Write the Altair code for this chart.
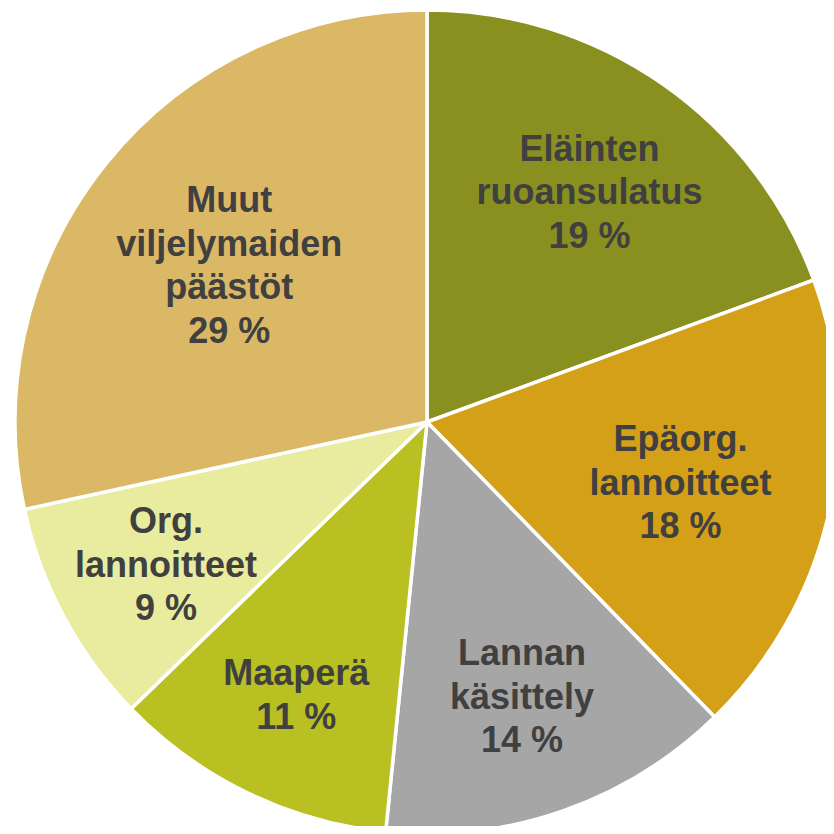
import altair as alt
import pandas as pd

categories = ["Eläinten ruoansulatus", "Epäorg. lannoitteet", "Lannan käsittely",
              "Maaperä", "Org. lannoitteet", "Muut viljelymaiden päästöt"]
shares = [19.4, 18.3, 13.9, 11.15, 8.85, 28.4]
label_lines = [
    ["Eläinten", "ruoansulatus", "19 %"],
    ["Epäorg.", "lannoitteet", "18 %"],
    ["Lannan", "käsittely", "14 %"],
    ["Maaperä", "11 %"],
    ["Org.", "lannoitteet", "9 %"],
    ["Muut", "viljelymaiden", "päästöt", "29 %"],
]
colors = ["#8A9020", "#D4A017", "#A6A6A6", "#B9C022", "#E9EC9F", "#DBB865"]

df = pd.DataFrame({
    "cat": categories,
    "share": shares,
    "order": list(range(len(categories))),
    "label": ["\n".join(l) for l in label_lines],
})

CX, CY, R = 419, 414, 412
LINE_H = 43.5

base = alt.Chart(df).encode(
    theta=alt.Theta("share:Q", stack=True),
    order=alt.Order("order:Q"),
    x=alt.value(CX),
    y=alt.value(CY),
)

arcs = base.mark_arc(outerRadius=R, stroke="white", strokeWidth=3.5).encode(
    color=alt.Color("cat:N", scale=alt.Scale(domain=categories, range=colors), legend=None)
)

# label distance from centre, per slice (styling)
label_radius = {
    "Eläinten ruoansulatus": 284,
    "Epäorg. lannoitteet": 260,
    "Lannan käsittely": 288,
    "Maaperä": 300,
    "Org. lannoitteet": 296,
    "Muut viljelymaiden päästöt": 254,
}

layers = [arcs]
for cat, lines in zip(categories, label_lines):
    t = base.mark_text(
        radius=label_radius[cat], font="Liberation Sans", fontWeight="bold", fontSize=36,
        lineBreak="\n", lineHeight=LINE_H, align="center", baseline="middle",
        dy=-(len(lines) - 1) * LINE_H / 2 + 4, color="#404040"
    ).encode(
        text=alt.condition(alt.datum.cat == cat, "label:N", alt.value(""))
    )
    layers.append(t)

chart = alt.layer(*layers).properties(
    width=818, height=818, padding=0,
    autosize=alt.AutoSizeParams(type="none"),
).configure_view(stroke=None)

chart.save("out.html", embed_options={"renderer": "svg", "actions": False})
